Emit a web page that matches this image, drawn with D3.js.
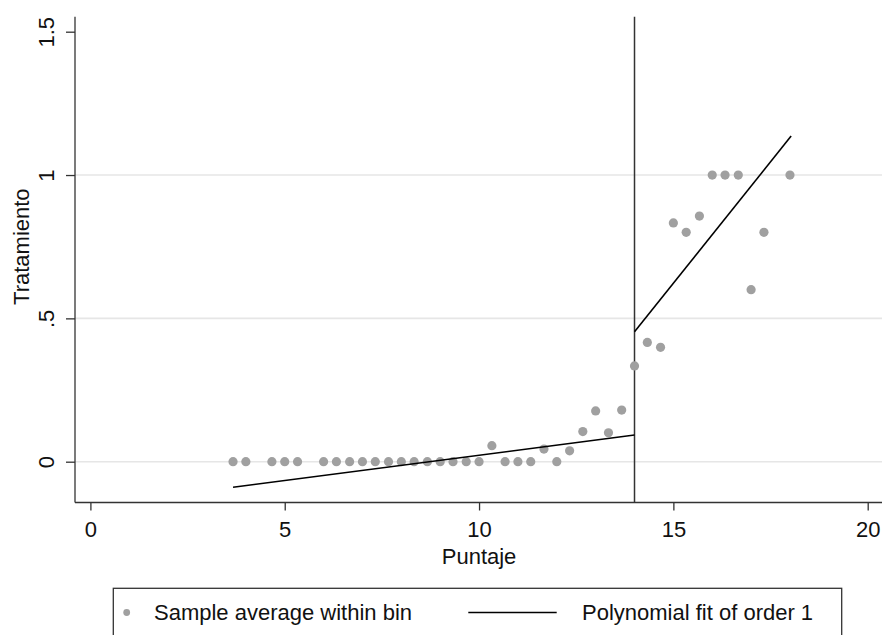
<!DOCTYPE html>
<html><head><meta charset="utf-8">
<script src="https://cdn.jsdelivr.net/npm/d3@7"></script>
<style>body{margin:0;background:#fff;} svg{display:block;font-family:"Liberation Sans",Arial,sans-serif;}</style>
</head><body>
<script>
// Binned sample averages
const binX = [3.67,4,4.67,5,5.33,6,6.33,6.67,7,7.33,7.67,8,8.33,8.67,9,9.33,9.67,10,10.33,10.67,11,11.33,11.67,12,12.33,12.67,13,13.33,13.67,
              14,14.33,14.67,15,15.33,15.67,16,16.33,16.67,17,17.33,18];
const binY = [0,0,0,0,0,0,0,0,0,0,0,0,0,0,0,0,0,0,0.056,0,0,0,0.044,0,0.038,0.105,0.177,0.101,0.18,
              0.334,0.416,0.399,0.833,0.80,0.857,1,1,1,0.6,0.8,1];
// Polynomial fit (order 1) endpoints, each side of the cutoff
const fitLeftX = [3.67, 14];
const fitLeftY = [-0.089, 0.093];
const fitRightX = [14, 18.03];
const fitRightY = [0.453, 1.136];
const cutoff = 14;
const xTicks = [0,5,10,15,20];
const yTicks = [0,0.5,1,1.5];
const gridTicks = [0,0.5,1];
const xTitle = "Puntaje", yTitle = "Tratamiento";
const legendLabels = ["Sample average within bin","Polynomial fit of order 1"];

const W=882,H=635, FS=22;
const svg=d3.select("body").append("svg").attr("width",W).attr("height",H);
const x=d3.scaleLinear().domain([0,20]).range([90.4,867.7]);
const y=d3.scaleLinear().domain([0,1.5]).range([461.7,31.7]);
const axL=75, axB=502.5, axTop=16.7, axR=882;

// grid
svg.append("g").selectAll("line").data(gridTicks).join("line")
  .attr("x1",axL).attr("x2",axR).attr("y1",d=>y(d)).attr("y2",d=>y(d))
  .attr("stroke","#e6e6e6").attr("stroke-width",1.6);

// axes
const xa=svg.append("g").attr("transform",`translate(0,${axB})`)
  .call(d3.axisBottom(x).tickValues(xTicks).tickSize(8).tickPadding(11).tickFormat(d3.format("d")));
xa.select(".domain").remove();
xa.selectAll("line").attr("stroke","#333").attr("stroke-width",1.3);
xa.selectAll("text").attr("font-size",FS).attr("font-family","Liberation Sans, Arial, sans-serif").attr("fill","#111");

const ya=svg.append("g").attr("transform",`translate(${axL},0)`)
  .call(d3.axisLeft(y).tickValues(yTicks).tickSize(9).tickFormat(d=>d===0.5?".5":String(d)));
ya.select(".domain").remove();
ya.selectAll("line").attr("stroke","#333").attr("stroke-width",1.3);
ya.selectAll("text").attr("x",0).attr("dy",null)
  .attr("font-size",FS).attr("font-family","Liberation Sans, Arial, sans-serif").attr("fill","#111")
  .attr("text-anchor","middle").attr("dominant-baseline","central")
  .attr("transform","translate(-29,0) rotate(-90)");

svg.append("line").attr("x1",axL).attr("x2",axR).attr("y1",axB).attr("y2",axB).attr("stroke","#333").attr("stroke-width",1.3);
svg.append("line").attr("x1",axL).attr("x2",axL).attr("y1",axTop).attr("y2",axB).attr("stroke","#333").attr("stroke-width",1.3);

// titles
svg.append("text").attr("x",(x(0)+x(20))/2).attr("y",564).attr("text-anchor","middle")
  .attr("font-size",FS).attr("fill","#111").text(xTitle);
svg.append("text").attr("transform",`translate(29,${y(0.75)}) rotate(-90)`).attr("text-anchor","middle")
  .attr("font-size",FS).attr("fill","#111").text(yTitle);

// cutoff line
svg.append("line").attr("x1",x(cutoff)).attr("x2",x(cutoff)).attr("y1",axTop).attr("y2",axB)
  .attr("stroke","#333").attr("stroke-width",1.5);

// points
svg.append("g").selectAll("circle").data(binX.map((v,i)=>[v,binY[i]])).join("circle")
  .attr("cx",d=>x(d[0])).attr("cy",d=>y(d[1])).attr("r",4.6).attr("fill","#a0a0a0");

// fit lines
const line=d3.line().x(d=>x(d[0])).y(d=>y(d[1]));
[[fitLeftX,fitLeftY],[fitRightX,fitRightY]].forEach(([fx,fy])=>{
  svg.append("path").attr("d",line(fx.map((v,i)=>[v,fy[i]]))).attr("fill","none")
    .attr("stroke","#000").attr("stroke-width",1.6);
});

// legend
svg.append("rect").attr("x",113.3).attr("y",588.3).attr("width",841.7-113.3).attr("height",60)
  .attr("fill","none").attr("stroke","#333").attr("stroke-width",1.3);
svg.append("circle").attr("cx",126.7).attr("cy",612.5).attr("r",3.4).attr("fill","#a0a0a0");
svg.append("text").attr("x",154).attr("y",620).attr("font-size",FS).attr("fill","#111").text(legendLabels[0]);
svg.append("line").attr("x1",468.3).attr("x2",556.7).attr("y1",612.5).attr("y2",612.5).attr("stroke","#000").attr("stroke-width",1.6);
svg.append("text").attr("x",582).attr("y",620).attr("font-size",FS).attr("fill","#111").text(legendLabels[1]);
</script>
</body></html>
